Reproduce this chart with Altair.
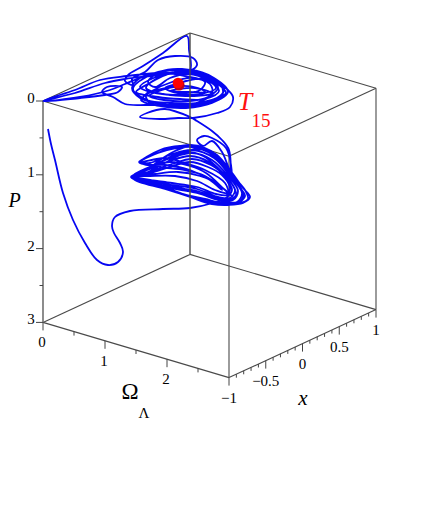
import altair as alt
import pandas as pd

# --- value arrays -----------------------------------------------------
OMEGA_MAJOR = [0, 1, 2]
OMEGA_MINOR = [0.5, 1.5, 2.5]
X_MAJOR = [-1, -0.5, 0, 0.5, 1]
X_MINOR = [-0.9, -0.8, -0.7, -0.6, -0.4, -0.3, -0.2, -0.1, 0.1, 0.2, 0.3, 0.4, 0.6, 0.7, 0.8, 0.9]
P_MAJOR = [0, 1, 2, 3]
P_MINOR = [0.5, 1.5, 2.5]

# Trajectory, in projected plane coordinates
TAIL = [(48, 129), (51, 144), (55, 160), (63, 193), (73, 220), (85, 243), (97, 260), (108, 265),
        (118, 262), (123, 252), (120, 243), (114, 233), (112, 226), (115, 217), (130, 211),
        (163, 209), (190, 208), (213, 203), (226, 198)]
LOWER_A = [(232, 190), (224, 176), (209, 162), (190, 156), (170, 161), (150, 169), (132, 177),
           (165, 184), (197, 189), (218, 197), (230, 198), (235, 190), (226, 177), (211, 165),
           (192, 159), (172, 164), (152, 171), (133, 177), (165, 186), (197, 191), (220, 199),
           (233, 200), (238, 191), (228, 176), (212, 160), (192, 153), (171, 158), (152, 166),
           (133, 176), (165, 182), (197, 187), (216, 194), (227, 195), (230, 188), (222, 175),
           (208, 167), (190, 162), (170, 167), (151, 173), (134, 177), (165, 187), (197, 193),
           (222, 201), (237, 202), (242, 193), (230, 176), (214, 158), (192, 150), (170, 155),
           (150, 163), (141, 163)]
LOWER_B = [(160, 167), (185, 170), (205, 176), (224, 189), (233, 197), (225, 190), (206, 173),
           (190, 166), (170, 162), (150, 165), (139, 162), (155, 154), (172, 148), (190, 145),
           (205, 148), (217, 155), (230, 170), (243, 188), (250, 197), (243, 203), (228, 205),
           (212, 204), (190, 197), (160, 187), (131, 177), (147, 170), (160, 160), (175, 151),
           (190, 146), (204, 149), (220, 160), (234, 177), (245, 190), (248, 199), (240, 203),
           (226, 204), (210, 202), (186, 195), (158, 185), (132, 178), (148, 172), (165, 163),
           (180, 155), (195, 149), (208, 152), (222, 165), (235, 180), (243, 193), (241, 201),
           (224, 203), (205, 199), (180, 193), (155, 183), (132, 177), (150, 176), (175, 176),
           (197, 181), (215, 190), (228, 193), (225, 183), (205, 170), (185, 163), (165, 158),
           (140, 162), (160, 150), (180, 146), (195, 147), (210, 153), (225, 166), (237, 184),
           (245, 196), (236, 203), (218, 203), (195, 198), (165, 189), (133, 178), (150, 168),
           (168, 158), (186, 152), (203, 156), (218, 168), (232, 184), (236, 195), (226, 200),
           (205, 195), (178, 187), (150, 180), (135, 177), (155, 174), (178, 172), (200, 176),
           (217, 184), (222, 190), (210, 180), (190, 170), (165, 165), (146, 165), (141, 162),
           (158, 153), (176, 148), (192, 147), (208, 150), (222, 162), (231, 178)]
BRIDGE = [(231, 165), (226, 148), (212, 138), (204, 136), (197, 140), (203, 146), (212, 141),
          (222, 152), (230, 170), (229, 150), (222, 140), (212, 131), (197, 121), (190, 117)]
UPPER_EDGE = [(165, 109), (147, 113), (140, 117), (160, 119), (178, 118), (193, 118), (217, 113),
              (230, 107), (233, 97), (228, 90), (208, 77), (185, 70), (160, 72), (140, 78), (132, 88),
              (140, 98), (160, 104), (185, 106), (212, 100), (226, 93), (215, 82), (195, 73), (170, 70),
              (148, 76)]
UPPER_LOOPS = [(133, 89), (147, 100), (172, 103), (198, 103), (220, 96), (224, 87), (206, 75),
               (182, 69), (160, 72), (148, 82), (155, 87), (170, 78), (188, 74), (208, 80), (219, 91),
               (205, 99), (180, 99), (158, 97), (136, 92), (148, 84), (166, 75), (190, 70), (214, 78),
               (228, 92), (212, 103), (186, 108), (160, 106), (141, 100), (152, 91), (172, 82),
               (192, 78), (210, 84), (212, 93), (194, 96), (170, 95), (150, 92), (140, 87), (156, 77),
               (178, 72), (200, 74), (221, 85), (222, 96), (200, 105), (172, 107), (150, 103),
               (146, 94), (165, 88), (186, 81), (204, 79), (216, 88), (201, 94), (182, 95), (163, 94),
               (146, 88), (162, 76), (184, 73), (204, 77), (218, 87), (208, 97), (190, 101),
               (164, 100), (149, 96), (162, 90), (180, 86), (198, 88), (205, 92), (188, 92), (170, 91)]
UPPER_OUT = [(195, 88), (212, 94), (196, 103), (170, 105), (147, 105), (125, 104), (113, 97),
             (102, 92), (107, 87), (122, 87), (118, 92), (105, 95), (80, 98), (43, 101), (75, 90),
             (100, 80), (127, 76), (157, 73), (187, 72), (197, 65), (193, 58), (175, 56), (158, 60),
             (145, 72), (132, 79), (133, 85), (125, 81), (128, 75), (143, 66), (163, 53), (187, 36),
             (189, 50), (190, 70), (175, 73), (150, 76), (125, 79), (105, 83), (75, 93), (44, 101),
             (80, 97), (110, 90), (125, 84), (140, 78), (160, 73), (185, 76), (205, 82), (200, 90),
             (178, 93), (165, 88), (178, 84)]
CURVE = TAIL + LOWER_A + LOWER_B + BRIDGE + UPPER_EDGE + UPPER_LOOPS + UPPER_OUT

# Box geometry in plane coordinates
ORIGIN = (43.0, 101.0)
OMEGA_STEP = (62.0, 18.4)
X_STEP = (73.5, -34.0)
P_STEP = 73.8


def project(omega, x, p):
    return (ORIGIN[0] + omega * OMEGA_STEP[0] + (x + 1) * X_STEP[0],
            ORIGIN[1] + omega * OMEGA_STEP[1] + (x + 1) * X_STEP[1] + p * P_STEP)


def seg(a, b):
    pa, pb = project(*a), project(*b)
    return {"x": pa[0], "y": pa[1], "x2": pb[0], "y2": pb[1]}


edges_under = [seg((0, 1, 3), (0, -1, 3)), seg((0, 1, 3), (3, 1, 3)),
               seg((3, -1, 0), (3, -1, 3)), seg((3, 1, 0), (3, 1, 3)),
               seg((0, -1, 0), (3, -1, 0)), seg((3, -1, 0), (3, 1, 0)), seg((3, 1, 0), (0, 1, 0)),
               seg((0, 1, 0), (0, -1, 0)), seg((0, -1, 3), (3, -1, 3)), seg((3, -1, 3), (3, 1, 3))]
edge_back = [seg((0, 1, 0), (0, 1, 3))]
edge_left = [seg((0, -1, 0), (0, -1, 3))]
ticks = []
for w, L in [(v, 8) for v in OMEGA_MAJOR] + [(v, 4) for v in OMEGA_MINOR]:
    a = project(w, -1, 3)
    ticks.append({"x": a[0], "y": a[1], "x2": a[0], "y2": a[1] + L})
for v, L in [(v, 8) for v in X_MAJOR] + [(v, 3.5) for v in X_MINOR]:
    a = project(3, v, 3)
    ticks.append({"x": a[0], "y": a[1], "x2": a[0], "y2": a[1] + L})
for p, L in [(v, 7) for v in P_MAJOR] + [(v, 3.5) for v in P_MINOR]:
    a = project(0, -1, p)
    ticks.append({"x": a[0] - L, "y": a[1], "x2": a[0], "y2": a[1]})

labels = []
for v in OMEGA_MAJOR:
    a = project(v, -1, 3)
    labels.append({"x": a[0] - 1, "y": a[1] + 20, "t": str(v)})
for v, t in zip(X_MAJOR, ["\u22121", "\u22120.5", "0", "0.5", "1"]):
    a = project(3, v, 3)
    labels.append({"x": a[0], "y": a[1] + 20, "t": t})
for v in P_MAJOR:
    a = project(0, -1, v)
    labels.append({"x": a[0] - 12, "y": a[1] - 3, "t": str(v)})

X = alt.X("x:Q", scale=alt.Scale(domain=[8, 413], nice=False, zero=False), axis=None)
Y = alt.Y("y:Q", scale=alt.Scale(domain=[8, 508], reverse=True, nice=False, zero=False), axis=None)


def rules(rows, color, width):
    return alt.Chart(pd.DataFrame(rows)).mark_rule(color=color, strokeWidth=width).encode(
        x=X, y=Y, x2="x2:Q", y2="y2:Q")


def words(rows, size, color="black", style="normal", align="center"):
    return alt.Chart(pd.DataFrame(rows)).mark_text(
        font="Liberation Serif", fontSize=size, color=color, fontStyle=style, align=align, baseline="middle"
    ).encode(x=X, y=Y, text="t:N")


curve = alt.Chart(pd.DataFrame({"x": [p[0] for p in CURVE], "y": [p[1] for p in CURVE],
                                "i": range(len(CURVE))})).mark_line(
    color="#0606f2", strokeWidth=1.8, interpolate="catmull-rom").encode(x=X, y=Y, order="i:Q")

ball_dark = alt.Chart(pd.DataFrame({"x": [179], "y": [85]})).mark_point(
    filled=True, color="#c00018", size=125, opacity=1).encode(x=X, y=Y)
ball = alt.Chart(pd.DataFrame({"x": [178], "y": [83]})).mark_point(
    filled=True, color="#ff0000", size=115, opacity=1).encode(x=X, y=Y)

chart = alt.layer(
    rules(edges_under, "#4a4a4a", 1.1),
    rules(edge_left, "#707070", 1.6),
    curve,
    rules(edge_back, "#4a4a4a", 1.4),
    rules(ticks, "#444444", 1),
    ball_dark, ball,
    words(labels, 15),
    words([{"x": 8.5, "y": 201, "t": "P"}], 20, style="italic", align="left"),
    words([{"x": 303, "y": 399, "t": "x"}], 21, style="italic"),
    words([{"x": 130, "y": 392, "t": "\u03a9"}], 23),
    words([{"x": 144, "y": 413, "t": "\u039b"}], 15),
    words([{"x": 245, "y": 102, "t": "T"}], 26, "#ff1010", "italic"),
    words([{"x": 261, "y": 121, "t": "15"}], 19, "#ff1010"),
).properties(width=405, height=500, padding=0, background="white",
             autosize=alt.AutoSizeParams(type="none")
).configure_view(strokeWidth=0, stroke="transparent")

chart.save("out.html", embed_options={"renderer": "svg", "actions": False})
